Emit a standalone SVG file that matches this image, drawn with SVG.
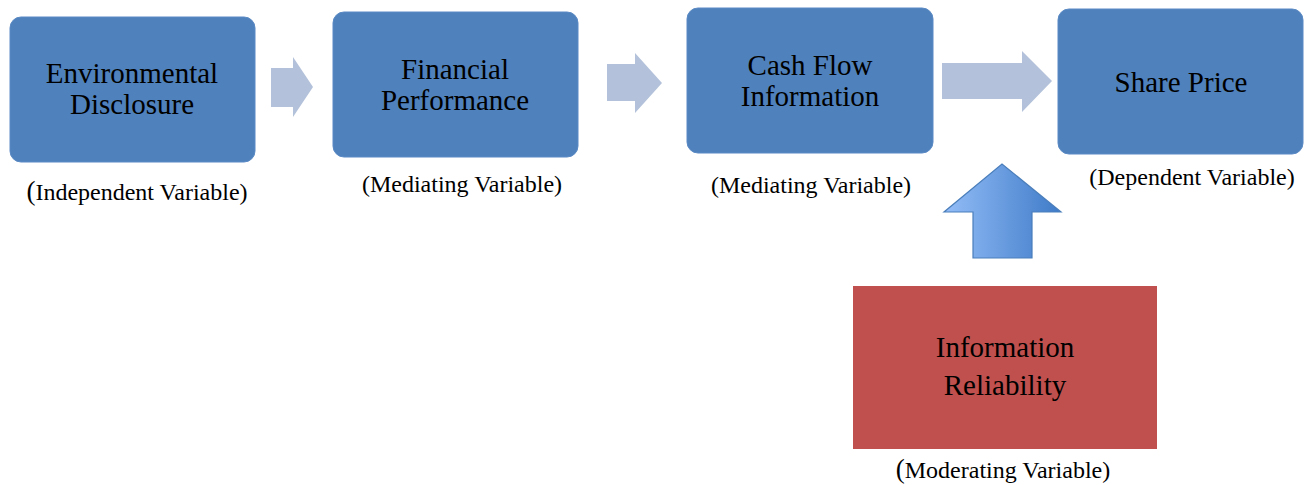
<svg xmlns="http://www.w3.org/2000/svg" width="1307" height="485" viewBox="0 0 1307 485">
<style>
.box{fill:#4f81bd;stroke:#5b8ac4;stroke-width:1}
.t{font-family:"Liberation Serif","Times New Roman",serif;font-size:29px;fill:#000;text-anchor:middle}
.l{font-family:"Liberation Serif","Times New Roman",serif;font-size:24px;fill:#000;text-anchor:middle}
.arr{fill:#b3c2da}
</style>
<defs>
<linearGradient id="ug" x1="0" y1="0" x2="1" y2="0">
<stop offset="0" stop-color="#93bdf7"/>
<stop offset="1" stop-color="#3f7bc8"/>
</linearGradient>
</defs>
<rect width="1307" height="485" fill="#fff"/>
<g id="connectors">
<polygon class="arr" points="271,68 293,68 293,57 313,87 293,117 293,107 271,107"/>
<polygon class="arr" points="607,64 635,64 635,53 662,83 635,113 635,101 607,101"/>
<polygon class="arr" points="942,63 1022,63 1022,51 1052,81 1022,112 1022,99 942,99"/>
<polygon points="973,258 973,212 944,212 1002,164 1061,212 1032,212 1032,258" fill="url(#ug)" stroke="#4a7ebb" stroke-width="1.2"/>
</g>
<g id="node-environmental">
<rect class="box" x="10" y="17" width="245" height="145" rx="11"/>
<text class="t" x="132" y="83">Environmental</text>
<text class="t" x="132" y="114">Disclosure</text>
<text class="l" x="137" y="200"><tspan font-size="27">(</tspan>Independent Variable)</text>
</g>
<g id="node-financial">
<rect class="box" x="333" y="12" width="245" height="145" rx="11"/>
<text class="t" x="455" y="79">Financial</text>
<text class="t" x="455" y="110">Performance</text>
<text class="l" x="462" y="192">(Mediating Variable)</text>
</g>
<g id="node-cashflow">
<rect class="box" x="687" y="8" width="246" height="145" rx="11"/>
<text class="t" x="810" y="75">Cash Flow</text>
<text class="t" x="810" y="106">Information</text>
<text class="l" x="811" y="193">(Mediating Variable)</text>
</g>
<g id="node-shareprice">
<rect class="box" x="1058" y="9" width="245" height="145" rx="11"/>
<text class="t" x="1181" y="92">Share Price</text>
<text class="l" x="1192" y="185">(Dependent Variable)</text>
</g>
<g id="node-reliability">
<rect x="853" y="286" width="304" height="163" fill="#c0504d"/>
<text class="t" x="1005" y="357">Information</text>
<text class="t" x="1005" y="395">Reliability</text>
<text class="l" x="1003" y="478"><tspan font-size="27">(</tspan>Moderating Variable)</text>
</g>
</svg>
